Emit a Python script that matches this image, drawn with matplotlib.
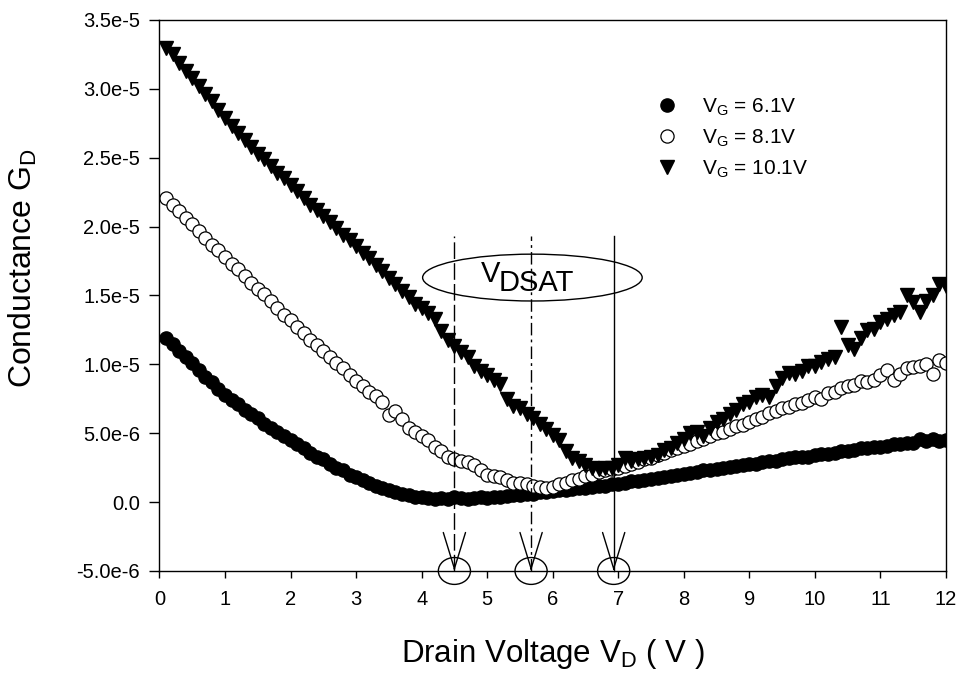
import numpy as np
import matplotlib
matplotlib.use("Agg")
import matplotlib.pyplot as plt
from matplotlib.patches import Ellipse

plt.rcParams['font.family'] = ['Liberation Sans', 'DejaVu Sans']
plt.rcParams['mathtext.fontset'] = 'custom'
plt.rcParams['mathtext.rm'] = 'Liberation Sans'

# drain voltage sweep, 0.1 V step
vd = np.round(np.arange(1, 121) * 0.1, 1)

# conductance in units of 1e-6 S, one list per gate voltage
g_61 = [11.9, 11.5, 11.0, 10.5, 10.1, 9.6, 9.1, 8.7, 8.2, 7.8,
        7.4, 7.1, 6.7, 6.4, 6.1, 5.7, 5.4, 5.1, 4.8, 4.5,
        4.2, 3.9, 3.6, 3.3, 3.1, 2.8, 2.5, 2.3, 2.0, 1.8,
        1.6, 1.4, 1.2, 1.0, 0.9, 0.75, 0.6, 0.5, 0.4, 0.35,
        0.3, 0.25, 0.3, 0.25, 0.35, 0.3, 0.25, 0.3, 0.35, 0.3,
        0.4, 0.35, 0.45, 0.5, 0.5, 0.6, 0.6, 0.7, 0.75, 0.8,
        0.85, 0.9, 0.95, 1.0, 1.05, 1.1, 1.2, 1.2, 1.3, 1.35,
        1.4, 1.5, 1.55, 1.6, 1.7, 1.75, 1.8, 1.9, 2.0, 2.05,
        2.1, 2.2, 2.3, 2.3, 2.4, 2.5, 2.55, 2.6, 2.7, 2.8,
        2.8, 2.9, 3.0, 3.0, 3.1, 3.2, 3.25, 3.3, 3.3, 3.4,
        3.5, 3.5, 3.6, 3.7, 3.7, 3.8, 3.9, 3.9, 4.0, 4.0,
        4.1, 4.2, 4.2, 4.3, 4.3, 4.6, 4.4, 4.6, 4.4, 4.5]

g_81 = [22.1, 21.6, 21.1, 20.6, 20.2, 19.7, 19.2, 18.7, 18.3, 17.8,
        17.3, 16.9, 16.4, 15.9, 15.5, 15.1, 14.6, 14.1, 13.6, 13.2,
        12.7, 12.3, 11.8, 11.4, 11.0, 10.5, 10.1, 9.7, 9.2, 8.8,
        8.4, 8.0, 7.7, 7.3, 6.3, 6.6, 6.0, 5.4, 5.1, 4.8,
        4.5, 4.0, 3.7, 3.3, 3.1, 3.0, 2.9, 2.7, 2.3, 2.0,
        1.9, 1.8, 1.6, 1.4, 1.4, 1.3, 1.2, 1.1, 1.0, 1.1,
        1.3, 1.4, 1.6, 1.7, 1.9, 2.0, 2.2, 2.3, 2.4, 2.5,
        2.6, 2.8, 2.9, 3.1, 3.2, 3.4, 3.6, 3.8, 3.9, 4.1,
        4.2, 4.4, 4.6, 4.8, 5.0, 5.1, 5.3, 5.5, 5.6, 5.8,
        6.0, 6.2, 6.5, 6.6, 6.8, 6.9, 7.1, 7.2, 7.4, 7.6,
        7.5, 7.9, 8.0, 8.3, 8.4, 8.5, 8.8, 8.7, 8.9, 9.2,
        9.6, 8.9, 9.3, 9.7, 9.8, 9.9, 10.0, 9.3, 10.3, 10.1]

g_101 = [33.0, 32.5, 31.9, 31.3, 30.8, 30.2, 29.6, 29.1, 28.5, 27.9,
         27.3, 26.8, 26.3, 25.8, 25.3, 24.9, 24.4, 23.9, 23.5, 23.0,
         22.6, 22.1, 21.6, 21.2, 20.8, 20.3, 19.9, 19.4, 19.0, 18.6,
         18.1, 17.7, 17.2, 16.8, 16.3, 15.8, 15.3, 14.9, 14.4, 14.1,
         13.7, 13.3, 12.4, 11.8, 11.3, 10.9, 10.5, 9.9, 9.5, 9.2,
         8.9, 8.6, 7.5, 7.0, 6.8, 6.4, 6.1, 5.7, 5.3, 4.9,
         4.5, 3.7, 3.2, 3.0, 2.7, 2.5, 2.4, 2.5, 2.5, 2.7,
         3.2, 3.0, 3.1, 3.2, 3.3, 3.4, 3.8, 3.9, 4.3, 4.6,
         5.0, 5.1, 4.8, 5.4, 5.8, 6.0, 6.4, 6.7, 7.1, 7.3,
         7.6, 7.8, 7.6, 8.4, 9.0, 9.4, 9.3, 9.5, 9.9, 9.9,
         10.2, 10.4, 10.5, 12.7, 11.4, 11.1, 11.9, 12.5, 12.6, 13.1,
         13.3, 13.6, 13.8, 15.0, 14.5, 13.8, 14.6, 15.0, 15.8, 15.7]

labels = [r'V$_\mathregular{G}$ = 6.1V', r'V$_\mathregular{G}$ = 8.1V',
          r'V$_\mathregular{G}$ = 10.1V']

# saturation voltages picked out on the plot
vdsat = [4.5, 5.67, 6.93]
vdsat_styles = [(0, (12, 3)), (0, (9, 3, 2, 3)), '-']

yticks = [-5e-6, 0, 5e-6, 1e-5, 1.5e-5, 2e-5, 2.5e-5, 3e-5, 3.5e-5]
ytick_labels = ['-5.0e-6', '0.0', '5.0e-6', '1.0e-5', '1.5e-5',
                '2.0e-5', '2.5e-5', '3.0e-5', '3.5e-5']

fig = plt.figure(figsize=(9.6, 6.73), dpi=100)
ax = fig.add_axes([0.1661, 0.1516, 0.8193, 0.8187])

scale = 1e-6
ax.plot(vd, np.array(g_61) * scale, 'o', ms=9.5, mfc='black', mec='black',
        label=labels[0])
ax.plot(vd, np.array(g_81) * scale, 'o', ms=9.5, mfc='white', mec='black',
        mew=0.9, label=labels[1])
ax.plot(vd, np.array(g_101) * scale, 'v', ms=10.5, mfc='black', mec='black',
        label=labels[2])

ytop = 19.3e-6
ybot = -5e-6
for v, ls in zip(vdsat, vdsat_styles):
    ax.plot([v, v], [ybot, ytop], color='black', lw=1, linestyle=ls,
            zorder=5, clip_on=False)
    ax.annotate('', xy=(v, ybot), xytext=(0, 2), textcoords='offset points',
                arrowprops=dict(arrowstyle='->,head_length=2.6,head_width=0.8',
                                mutation_scale=10, lw=1, color='black',
                                shrinkA=0, shrinkB=0),
                annotation_clip=False, zorder=6)
    ax.add_patch(Ellipse((v, ybot), 0.49, 1.95e-6, fill=False, lw=1,
                         ec='black', clip_on=False, zorder=6))

ax.add_patch(Ellipse((5.69, 16.3e-6), 3.35, 3.4e-6, fill=False, lw=1,
                     ec='black', zorder=6))
ax.text(4.91, 15.95e-6, 'V', fontsize=21, zorder=7)
ax.text(5.17, 15.3e-6, 'DSAT', fontsize=21, zorder=7)

ax.set_xlim(0, 12)
ax.set_ylim(-5e-6, 3.5e-5)
ax.set_xticks(range(0, 13))
ax.set_yticks(yticks)
ax.set_yticklabels(ytick_labels)
ax.tick_params(direction='out', width=1, labelsize=14.5, colors='black')
ax.tick_params(axis='y', length=7, pad=7)
ax.tick_params(axis='x', length=5, pad=9)
ax.tick_params(top=False, right=False)
for s in ax.spines.values():
    s.set_linewidth(1)

ax.set_xlabel(r'Drain Voltage V$_\mathregular{D}$ ( V )', fontsize=22.5,
              labelpad=20)
ax.set_ylabel(r'Conductance G$_\mathregular{D}$', fontsize=23)
ax.yaxis.set_label_coords(-0.153, 0.55)

ax.legend(loc='upper left', bbox_to_anchor=(654 / 960, 1 - 96 / 673),
          bbox_transform=fig.transFigure, frameon=False, fontsize=15,
          handlelength=1.2, handletextpad=1.1, labelspacing=0.45,
          borderpad=0, borderaxespad=0)

fig.savefig('out.png', dpi=100)
